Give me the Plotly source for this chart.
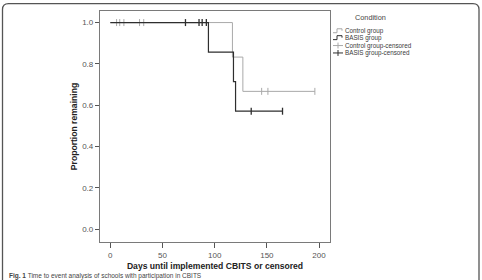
import plotly.graph_objects as go

# ---- data ----
control_x = [0, 117, 127, 196]
control_y = [1.0, 0.833, 0.667, 0.667]
control_cens_x = [6, 9, 13, 28, 32, 145, 151, 196]
control_cens_y = [1.0, 1.0, 1.0, 1.0, 1.0, 0.667, 0.667, 0.667]

basis_x = [0, 94, 118, 120, 165]
basis_y = [1.0, 0.857, 0.714, 0.571, 0.571]
basis_cens_x = [72, 85, 88, 92, 135, 165]
basis_cens_y = [1.0, 1.0, 1.0, 1.0, 0.571, 0.571]

x_ticks = [0, 50, 100, 150, 200]
y_ticks = [0.0, 0.2, 0.4, 0.6, 0.8, 1.0]
legend_labels = ["Control group", "BASIS group", "Control group-censored", "BASIS group-censored"]

LIGHT = "#a9a9a9"
DARK = "#2e2e2e"
FONT = "Liberation Sans, Arial, sans-serif"

# plot area in pixels
L, R, T, B = 100, 330, 10, 244
W, H = 482, 280


def px(x):
    return (x - L) / (R - L)


def py(y):
    return (B - y) / (B - T)


fig = go.Figure()
fig.add_trace(go.Scatter(x=control_x, y=control_y, mode="lines", line=dict(color=LIGHT, width=1, shape="hv"),
                         showlegend=False, hoverinfo="skip"))
fig.add_trace(go.Scatter(x=control_cens_x, y=control_cens_y, mode="markers",
                         marker=dict(symbol="line-ns", size=5, line=dict(color=LIGHT, width=1)),
                         showlegend=False))
fig.add_trace(go.Scatter(x=basis_x, y=basis_y, mode="lines", line=dict(color=DARK, width=1.2, shape="hv"),
                         showlegend=False, hoverinfo="skip"))
fig.add_trace(go.Scatter(x=basis_cens_x, y=basis_cens_y, mode="markers",
                         marker=dict(symbol="line-ns", size=5, line=dict(color=DARK, width=1.3)),
                         showlegend=False))

shapes = []
annotations = []

# outer rounded frame
x0, x1, y0, y1 = 2.5, 479, 2.5, 320
r = 6
path = (f"M {px(x0)},{py(y0 + r)} Q {px(x0)},{py(y0)} {px(x0 + r)},{py(y0)} "
        f"L {px(x1 - r)},{py(y0)} Q {px(x1)},{py(y0)} {px(x1)},{py(y0 + r)} "
        f"L {px(x1)},{py(y1)} L {px(x0)},{py(y1)} Z")
shapes.append(dict(type="path", xref="paper", yref="paper", path=path,
                   line=dict(color="#555555", width=1.3), layer="below"))

# legend
annotations.append(dict(text="Condition", xref="paper", yref="paper", x=px(370), y=py(17),
                        showarrow=False, font=dict(family=FONT, size=7.3, color="#444444"),
                        xanchor="center", yanchor="middle"))
item_y = [30, 37, 45, 52.5]
colors = [LIGHT, DARK, LIGHT, DARK]
for i, (lab, yy, c) in enumerate(zip(legend_labels, item_y, colors)):
    if i < 2:
        p = (f"M {px(333)},{py(yy + 2)} L {px(337)},{py(yy + 2)} L {px(337)},{py(yy - 2)} "
             f"L {px(342)},{py(yy - 2)} L {px(342)},{py(yy)}")
        shapes.append(dict(type="path", xref="paper", yref="paper", path=p,
                           line=dict(color=c, width=1)))
    else:
        shapes.append(dict(type="line", xref="paper", yref="paper", x0=px(333), x1=px(343),
                           y0=py(yy), y1=py(yy), line=dict(color=c, width=1)))
        shapes.append(dict(type="line", xref="paper", yref="paper", x0=px(338), x1=px(338),
                           y0=py(yy - 3), y1=py(yy + 3), line=dict(color=c, width=1)))
    annotations.append(dict(text=lab, xref="paper", yref="paper", x=px(344), y=py(yy),
                            showarrow=False, font=dict(family=FONT, size=6.3, color="#3a3a3a"),
                            xanchor="left", yanchor="middle", xshift=-1))

# caption (partly cut off at the bottom)
annotations.append(dict(text="<b>Fig. 1</b> Time to event analysis of schools with participation in CBITS",
                        xref="paper", yref="paper", x=px(7), y=py(278.5), showarrow=False,
                        font=dict(family=FONT, size=6.5, color="#444444"),
                        xanchor="left", yanchor="middle"))

fig.update_layout(
    width=W, height=H,
    margin=dict(l=L, r=W - R, t=T, b=H - B, pad=0),
    paper_bgcolor="white", plot_bgcolor="white",
    showlegend=False,
    shapes=shapes, annotations=annotations,
    font=dict(family=FONT),
    xaxis=dict(range=[-9.9, 210.5], tickvals=x_ticks, ticks="outside", ticklen=5, tickcolor="#555555",
               tickwidth=1, showline=True, linecolor="#7a7a7a", linewidth=1.2, mirror=True,
               showgrid=False, zeroline=False, tickfont=dict(size=8, color="#555555"),
               title=dict(text="<b>Days until implemented CBITS or censored</b>", standoff=4,
                          font=dict(size=8.6, color="#222222"))),
    yaxis=dict(range=[-0.062, 1.056], tickvals=y_ticks, tickformat=".1f", ticks="outside", ticklen=4,
               tickcolor="#555555", tickwidth=1, showline=True, linecolor="#7a7a7a", linewidth=1.2,
               mirror=True, showgrid=False, zeroline=False, tickfont=dict(size=8, color="#555555"),
               title=dict(text="<b>Proportion remaining</b>", standoff=3,
                          font=dict(size=8.6, color="#222222"))),
)

fig.write_html("out.html")
